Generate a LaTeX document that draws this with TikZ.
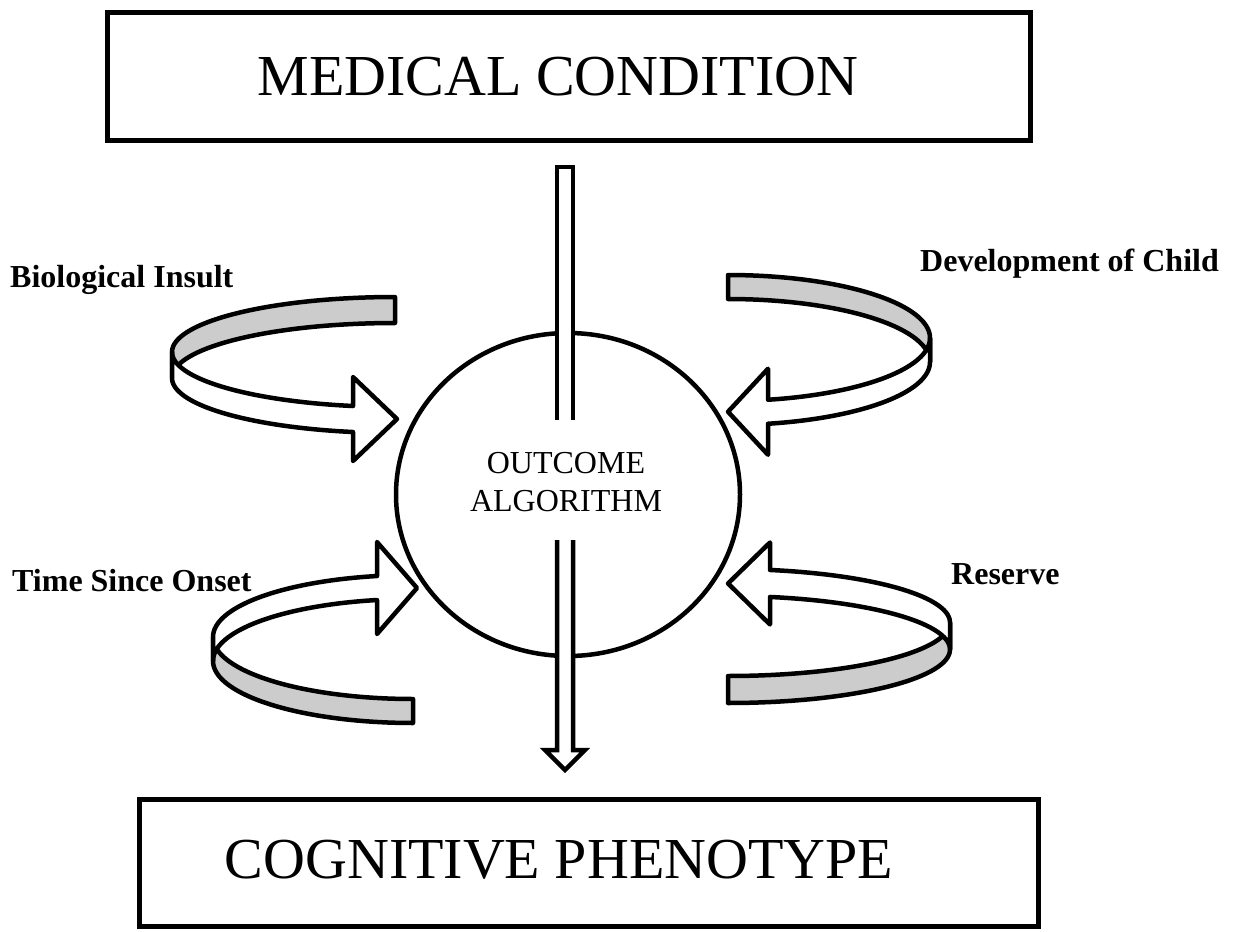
\documentclass[tikz,border=0pt]{standalone}
\usepackage{fontspec}
\setmainfont{Liberation Serif}
\usetikzlibrary{shapes.geometric}
\definecolor{RibbonGray}{gray}{0.8}

\tikzset{
  panel/.style={draw,line width=5pt,inner sep=0pt},
  ribbon/.style={draw,line width=4.5pt,line join=round},
  shaft/.style={draw,fill=white,line width=4.5pt,line join=miter},
  title/.style={font=\fontsize{58}{64}\selectfont,inner sep=0pt,anchor=base},
  factor/.style={font=\fontsize{32}{38}\selectfont\bfseries,inner sep=0pt,anchor=base west},
}

% curled ribbon arrow, uses \curla \curlb \curlh \headx \tipx \headw of the scope
\newcommand{\curlarrow}{%
  \pgfmathsetmacro{\headt}{acos(\headx/\curla)}%
  \pgfmathsetmacro{\headc}{\curlb*sin(\headt)+\curlh/2}%
  \path[ribbon,fill=RibbonGray] plot[domain=270:180,samples=50] ({\curla*cos(\x)},{\curlb*sin(\x)})
    -- plot[domain=180:270,samples=50] ({\curla*cos(\x)},{\curlb*sin(\x)+\curlh}) -- cycle;
  \path[ribbon,fill=white] plot[domain=180:\headt,samples=50] ({\curla*cos(\x)},{\curlb*sin(\x)})
    -- (\headx,\headc-\headw) -- (\tipx,\headc) -- (\headx,\headc+\headw)
    -- plot[domain=\headt:180,samples=50] ({\curla*cos(\x)},{\curlb*sin(\x)+\curlh}) -- cycle;
}

\begin{document}
\begin{tikzpicture}[x=1pt,y=-1pt]
\useasboundingbox (0,0) rectangle (1235,932);

\node[panel,minimum width=923pt,minimum height=128pt] (condbox) at (569,76.5) {};
\node[title] (condtext) at (558,95) {MEDICAL CONDITION};
\node[panel,minimum width=899pt,minimum height=127pt] (phenobox) at (589,863) {};
\node[title] (phenotext) at (559,878) {COGNITIVE PHENOTYPE};

\node[draw,ellipse,line width=4.5pt,minimum width=344pt,minimum height=323pt,inner sep=0pt] (outcome) at (568,494.5) {};
\node[font=\fontsize{32}{38}\selectfont,align=center,inner sep=0pt,anchor=base] (outtext) at (566,511) {OUTCOME\\ALGORITHM};

\path[shaft] (557,420) -- (557,167) -- (573,167) -- (573,420);
\path[shaft] (557,540) -- (557,750) -- (545,750) -- (565,770) -- (585,750) -- (573,750) -- (573,540);

\begin{scope}[shift={(395,352)}]
\def\curla{223}\def\curlb{55}\def\curlh{26}\def\headx{-42}\def\tipx{2}\def\headw{42}
\curlarrow
\end{scope}
\begin{scope}[shift={(728,338)},xscale=-1]
\def\curla{202}\def\curlb{63}\def\curlh{24}\def\headx{-40}\def\tipx{0}\def\headw{43}
\curlarrow
\end{scope}
\begin{scope}[shift={(413,661)},yscale=-1]
\def\curla{200}\def\curlb{62}\def\curlh{24}\def\headx{-36}\def\tipx{4}\def\headw{46}
\curlarrow
\end{scope}
\begin{scope}[shift={(728,649.5)},xscale=-1,yscale=-1]
\def\curla{222}\def\curlb{53.5}\def\curlh{27}\def\headx{-42}\def\tipx{0}\def\headw{41}
\curlarrow
\end{scope}

\node[factor] (insult) at (10,287) {Biological Insult};
\node[factor] (develop) at (920,271) {Development of Child};
\node[factor] (onset) at (12,591) {Time Since Onset};
\node[factor] (reserve) at (951,584) {Reserve};
\end{tikzpicture}
\end{document}
